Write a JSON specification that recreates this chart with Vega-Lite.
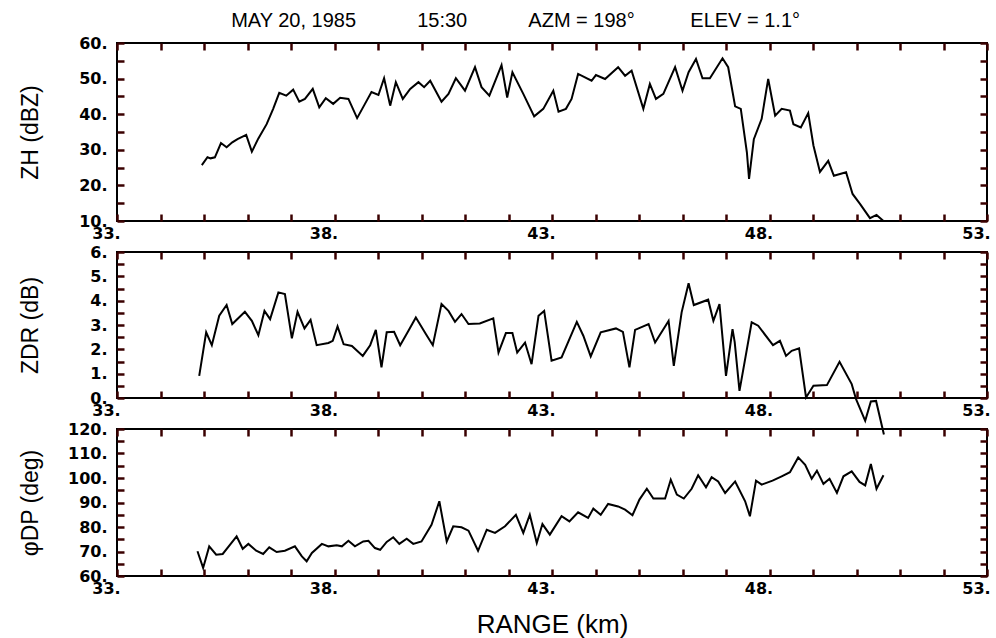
{
  "$schema": "https://vega.github.io/schema/vega-lite/v6.json",
  "background": "white",
  "padding": {"left": 18, "top": 11, "right": 5, "bottom": 0},
  "title": {
    "text": "MAY 20, 1985\u00a0\u00a0\u00a0\u00a0\u00a0\u00a0\u00a0\u00a0\u00a0\u00a0\u00a015:30\u00a0\u00a0\u00a0\u00a0\u00a0\u00a0\u00a0\u00a0\u00a0\u00a0\u00a0AZM = 198°\u00a0\u00a0\u00a0\u00a0\u00a0\u00a0\u00a0\u00a0\u00a0\u00a0ELEV = 1.1°",
    "anchor": "middle",
    "font": "Liberation Sans",
    "fontSize": 20,
    "fontWeight": "normal",
    "color": "black",
    "dx": 11,
    "offset": 3
  },
  "config": {
    "view": {"stroke": "black", "strokeWidth": 2},
    "axis": {
      "domain": false,
      "grid": false,
      "ticks": true,
      "zindex": 2,
      "offset": -7,
      "tickColor": "#3a0000",
      "tickSize": 7,
      "tickWidth": 2.5,
      "tickOpacity": 1,
      "labelFont": "DejaVu Sans",
      "labelFontWeight": "bold",
      "labelFontSize": 16,
      "labelColor": "black",
      "labelOverlap": false,
      "labelFlush": false,
      "titleFont": "Liberation Sans",
      "titleFontWeight": "normal",
      "titleColor": "black"
    },
    "axisX": {"titleFontSize": 26, "labelOffset": -11, "labelPadding": 4, "titlePadding": 15},
    "axisY": {"titleFontSize": 23, "labelPadding": 10, "minExtent": 72, "maxExtent": 72, "titlePadding": 10}
  },
  "datasets": {
    "zh": [
      {"r":34.95,"v":25.7},{"r":35.08,"v":27.9},{"r":35.15,"v":27.6},{"r":35.25,"v":27.9},{"r":35.39,"v":31.9},{"r":35.52,"v":30.7},{"r":35.65,"v":32.1},{"r":35.77,"v":33.0},{"r":35.97,"v":34.2},{"r":36.10,"v":29.5},{"r":36.25,"v":33.2},{"r":36.44,"v":37.2},{"r":36.59,"v":41.5},{"r":36.73,"v":46.0},{"r":36.89,"v":45.2},{"r":37.05,"v":46.9},{"r":37.19,"v":43.5},{"r":37.32,"v":44.3},{"r":37.50,"v":47.1},{"r":37.65,"v":41.9},{"r":37.80,"v":44.5},{"r":37.97,"v":42.9},{"r":38.13,"v":44.6},{"r":38.32,"v":44.3},{"r":38.52,"v":38.9},{"r":38.70,"v":42.9},{"r":38.85,"v":46.2},{"r":39.01,"v":45.4},{"r":39.14,"v":50.1},{"r":39.28,"v":42.4},{"r":39.41,"v":49.0},{"r":39.57,"v":44.3},{"r":39.74,"v":47.1},{"r":39.93,"v":49.0},{"r":40.06,"v":47.6},{"r":40.20,"v":49.4},{"r":40.46,"v":43.5},{"r":40.62,"v":45.7},{"r":40.79,"v":50.1},{"r":41.00,"v":46.6},{"r":41.23,"v":53.2},{"r":41.38,"v":47.6},{"r":41.56,"v":45.2},{"r":41.84,"v":53.8},{"r":41.97,"v":44.7},{"r":42.09,"v":51.8},{"r":42.34,"v":45.7},{"r":42.59,"v":39.4},{"r":42.80,"v":41.5},{"r":43.03,"v":46.6},{"r":43.15,"v":40.7},{"r":43.32,"v":41.5},{"r":43.45,"v":44.3},{"r":43.60,"v":51.3},{"r":43.91,"v":49.4},{"r":44.01,"v":51.0},{"r":44.22,"v":49.9},{"r":44.52,"v":53.2},{"r":44.68,"v":50.8},{"r":44.83,"v":52.2},{"r":45.10,"v":41.5},{"r":45.25,"v":48.5},{"r":45.39,"v":44.3},{"r":45.56,"v":45.7},{"r":45.83,"v":53.2},{"r":46.00,"v":46.6},{"r":46.14,"v":51.8},{"r":46.31,"v":55.5},{"r":46.46,"v":50.1},{"r":46.63,"v":50.1},{"r":46.92,"v":55.7},{"r":47.05,"v":53.2},{"r":47.21,"v":42.2},{"r":47.34,"v":41.5},{"r":47.48,"v":29.3},{"r":47.53,"v":21.8},{"r":47.64,"v":33.0},{"r":47.82,"v":38.7},{"r":47.97,"v":49.9},{"r":48.13,"v":39.6},{"r":48.28,"v":41.5},{"r":48.47,"v":41.0},{"r":48.55,"v":37.2},{"r":48.72,"v":36.3},{"r":48.89,"v":40.3},{"r":49.01,"v":31.2},{"r":49.16,"v":23.8},{"r":49.35,"v":26.9},{"r":49.48,"v":22.7},{"r":49.76,"v":23.7},{"r":49.91,"v":17.6},{"r":50.08,"v":14.8},{"r":50.31,"v":10.8},{"r":50.46,"v":11.7},{"r":50.62,"v":10.0}
    ],
    "zdr": [
      {"r":34.89,"v":0.91},{"r":35.05,"v":2.70},{"r":35.18,"v":2.17},{"r":35.35,"v":3.38},{"r":35.52,"v":3.82},{"r":35.65,"v":3.04},{"r":35.94,"v":3.54},{"r":36.10,"v":3.17},{"r":36.25,"v":2.58},{"r":36.39,"v":3.58},{"r":36.52,"v":3.24},{"r":36.71,"v":4.34},{"r":36.86,"v":4.27},{"r":37.02,"v":2.45},{"r":37.15,"v":3.54},{"r":37.31,"v":2.86},{"r":37.45,"v":3.21},{"r":37.59,"v":2.17},{"r":37.86,"v":2.26},{"r":37.96,"v":2.35},{"r":38.07,"v":2.94},{"r":38.21,"v":2.21},{"r":38.40,"v":2.14},{"r":38.65,"v":1.73},{"r":38.82,"v":2.17},{"r":38.95,"v":2.80},{"r":39.08,"v":1.26},{"r":39.20,"v":2.70},{"r":39.37,"v":2.72},{"r":39.51,"v":2.17},{"r":39.70,"v":2.76},{"r":39.87,"v":3.31},{"r":40.10,"v":2.63},{"r":40.26,"v":2.17},{"r":40.46,"v":3.86},{"r":40.62,"v":3.58},{"r":40.77,"v":3.13},{"r":40.92,"v":3.45},{"r":41.08,"v":3.04},{"r":41.34,"v":3.06},{"r":41.65,"v":3.27},{"r":41.77,"v":1.87},{"r":41.94,"v":2.67},{"r":42.09,"v":2.67},{"r":42.20,"v":1.87},{"r":42.38,"v":2.28},{"r":42.53,"v":1.39},{"r":42.69,"v":3.38},{"r":42.82,"v":3.58},{"r":42.99,"v":1.53},{"r":43.22,"v":1.67},{"r":43.57,"v":3.13},{"r":43.72,"v":2.56},{"r":43.89,"v":1.71},{"r":44.12,"v":2.70},{"r":44.47,"v":2.86},{"r":44.63,"v":2.72},{"r":44.78,"v":1.26},{"r":44.91,"v":2.80},{"r":45.22,"v":3.04},{"r":45.37,"v":2.28},{"r":45.68,"v":3.17},{"r":45.80,"v":1.32},{"r":45.98,"v":3.52},{"r":46.14,"v":4.72},{"r":46.26,"v":3.82},{"r":46.59,"v":4.04},{"r":46.71,"v":3.17},{"r":46.85,"v":3.86},{"r":47.00,"v":0.91},{"r":47.15,"v":2.83},{"r":47.20,"v":2.3},{"r":47.31,"v":0.29},{"r":47.59,"v":3.11},{"r":47.74,"v":2.97},{"r":48.08,"v":2.17},{"r":48.24,"v":2.35},{"r":48.38,"v":1.73},{"r":48.51,"v":1.94},{"r":48.68,"v":2.04},{"r":48.84,"v":0.02},{"r":49.01,"v":0.50},{"r":49.32,"v":0.53},{"r":49.61,"v":1.49},{"r":49.89,"v":0.57},{"r":49.99,"v":-0.05},{"r":50.20,"v":-0.94},{"r":50.33,"v":-0.14},{"r":50.45,"v":-0.12},{"r":50.63,"v":-1.5}
    ],
    "phi": [
      {"r":34.85,"v":70.1},{"r":34.98,"v":63.3},{"r":35.12,"v":72.1},{"r":35.28,"v":68.7},{"r":35.43,"v":69.0},{"r":35.60,"v":72.8},{"r":35.75,"v":76.2},{"r":35.89,"v":71.1},{"r":36.02,"v":73.1},{"r":36.20,"v":70.3},{"r":36.36,"v":69.0},{"r":36.50,"v":71.7},{"r":36.67,"v":69.8},{"r":36.86,"v":70.3},{"r":37.09,"v":72.1},{"r":37.25,"v":68.0},{"r":37.36,"v":66.0},{"r":37.48,"v":69.4},{"r":37.71,"v":73.1},{"r":37.86,"v":72.1},{"r":38.05,"v":72.5},{"r":38.17,"v":72.1},{"r":38.32,"v":74.4},{"r":38.47,"v":72.1},{"r":38.66,"v":74.1},{"r":38.78,"v":74.4},{"r":38.93,"v":71.4},{"r":39.05,"v":70.7},{"r":39.20,"v":73.9},{"r":39.35,"v":75.8},{"r":39.49,"v":73.1},{"r":39.66,"v":75.2},{"r":39.81,"v":73.1},{"r":40.00,"v":74.1},{"r":40.23,"v":80.9},{"r":40.41,"v":90.5},{"r":40.58,"v":74.1},{"r":40.73,"v":80.3},{"r":40.92,"v":79.9},{"r":41.08,"v":78.5},{"r":41.30,"v":70.3},{"r":41.50,"v":78.9},{"r":41.69,"v":77.6},{"r":41.92,"v":80.3},{"r":42.17,"v":85.0},{"r":42.34,"v":77.6},{"r":42.49,"v":85.0},{"r":42.65,"v":73.5},{"r":42.78,"v":81.2},{"r":42.95,"v":76.9},{"r":43.22,"v":84.4},{"r":43.40,"v":82.3},{"r":43.60,"v":86.0},{"r":43.83,"v":83.7},{"r":43.95,"v":87.5},{"r":44.12,"v":85.0},{"r":44.29,"v":89.4},{"r":44.52,"v":88.4},{"r":44.68,"v":87.1},{"r":44.85,"v":84.8},{"r":45.01,"v":91.2},{"r":45.18,"v":95.6},{"r":45.33,"v":91.6},{"r":45.60,"v":91.6},{"r":45.73,"v":99.3},{"r":45.87,"v":93.2},{"r":46.03,"v":91.6},{"r":46.21,"v":95.6},{"r":46.36,"v":101.1},{"r":46.54,"v":96.2},{"r":46.67,"v":100.3},{"r":46.82,"v":98.6},{"r":46.98,"v":93.9},{"r":47.21,"v":98.6},{"r":47.44,"v":90.5},{"r":47.55,"v":84.4},{"r":47.69,"v":98.9},{"r":47.82,"v":97.3},{"r":48.07,"v":98.9},{"r":48.28,"v":100.7},{"r":48.47,"v":102.4},{"r":48.66,"v":108.4},{"r":48.82,"v":105.4},{"r":48.97,"v":99.7},{"r":49.09,"v":103.0},{"r":49.24,"v":97.6},{"r":49.38,"v":99.7},{"r":49.55,"v":93.9},{"r":49.70,"v":100.7},{"r":49.89,"v":102.7},{"r":50.07,"v":98.4},{"r":50.20,"v":97.0},{"r":50.33,"v":105.7},{"r":50.46,"v":95.6},{"r":50.62,"v":101.1}
    ]
  },
  "bounds": "flush",
  "spacing": 31,
  "vconcat": [
    {
      "width": 870,
      "height": 178,
      "data": {"name": "zh"},
      "layer": [
        {
          "mark": {"type": "line", "color": "black", "strokeWidth": 2},
          "encoding": {
            "x": {"field": "r", "type": "quantitative", "scale": {"domain": [33, 53], "nice": false, "zero": false},
                  "axis": {"orient": "bottom", "title": null, "values": [33,34,35,36,37,38,39,40,41,42,43,44,45,46,47,48,49,50,51,52,53], "labelExpr": "datum.value % 5 == 3 ? datum.value + '.' : ''"}},
            "y": {"field": "v", "type": "quantitative", "scale": {"domain": [10, 60], "nice": false, "zero": false},
                  "axis": {"orient": "left", "title": "ZH (dBZ)", "values": [10,15,20,25,30,35,40,45,50,55,60], "labelExpr": "datum.value % 10 == 0 ? datum.value + '.' : ''"}}
          }
        },
        {
          "mark": {"type": "line", "strokeOpacity": 0},
          "encoding": {
            "x": {"field": "r", "type": "quantitative", "axis": {"orient": "top", "title": null, "labels": false, "values": [33,34,35,36,37,38,39,40,41,42,43,44,45,46,47,48,49,50,51,52,53]}},
            "y": {"field": "v", "type": "quantitative", "axis": {"orient": "right", "title": null, "labels": false, "minExtent": 0, "maxExtent": 0, "values": [10,15,20,25,30,35,40,45,50,55,60]}}
          }
        }
      ],
      "resolve": {"axis": {"x": "independent", "y": "independent"}}
    },
    {
      "width": 870,
      "height": 146,
      "data": {"name": "zdr"},
      "layer": [
        {
          "mark": {"type": "line", "color": "black", "strokeWidth": 2, "clip": false},
          "encoding": {
            "x": {"field": "r", "type": "quantitative", "scale": {"domain": [33, 53], "nice": false, "zero": false},
                  "axis": {"orient": "bottom", "title": null, "values": [33,34,35,36,37,38,39,40,41,42,43,44,45,46,47,48,49,50,51,52,53], "labelExpr": "datum.value % 5 == 3 ? datum.value + '.' : ''"}},
            "y": {"field": "v", "type": "quantitative", "scale": {"domain": [0, 6], "nice": false, "zero": false},
                  "axis": {"orient": "left", "title": "ZDR (dB)", "values": [0,0.5,1,1.5,2,2.5,3,3.5,4,4.5,5,5.5,6], "labelExpr": "datum.value % 1 == 0 ? datum.value + '.' : ''"}}
          }
        },
        {
          "mark": {"type": "line", "strokeOpacity": 0},
          "encoding": {
            "x": {"field": "r", "type": "quantitative", "axis": {"orient": "top", "title": null, "labels": false, "values": [33,34,35,36,37,38,39,40,41,42,43,44,45,46,47,48,49,50,51,52,53]}},
            "y": {"field": "v", "type": "quantitative", "axis": {"orient": "right", "title": null, "labels": false, "minExtent": 0, "maxExtent": 0, "values": [0,0.5,1,1.5,2,2.5,3,3.5,4,4.5,5,5.5,6]}}
          }
        }
      ],
      "resolve": {"axis": {"x": "independent", "y": "independent"}}
    },
    {
      "width": 870,
      "height": 147,
      "data": {"name": "phi"},
      "layer": [
        {
          "mark": {"type": "line", "color": "black", "strokeWidth": 2},
          "encoding": {
            "x": {"field": "r", "type": "quantitative", "scale": {"domain": [33, 53], "nice": false, "zero": false},
                  "axis": {"orient": "bottom", "title": "RANGE (km)", "values": [33,34,35,36,37,38,39,40,41,42,43,44,45,46,47,48,49,50,51,52,53], "labelExpr": "datum.value % 5 == 3 ? datum.value + '.' : ''"}},
            "y": {"field": "v", "type": "quantitative", "scale": {"domain": [60, 120], "nice": false, "zero": false},
                  "axis": {"orient": "left", "title": "φDP (deg)", "values": [60,65,70,75,80,85,90,95,100,105,110,115,120], "labelExpr": "datum.value % 10 == 0 ? datum.value + '.' : ''"}}
          }
        },
        {
          "mark": {"type": "line", "strokeOpacity": 0},
          "encoding": {
            "x": {"field": "r", "type": "quantitative", "axis": {"orient": "top", "title": null, "labels": false, "values": [33,34,35,36,37,38,39,40,41,42,43,44,45,46,47,48,49,50,51,52,53]}},
            "y": {"field": "v", "type": "quantitative", "axis": {"orient": "right", "title": null, "labels": false, "minExtent": 0, "maxExtent": 0, "values": [60,65,70,75,80,85,90,95,100,105,110,115,120]}}
          }
        }
      ],
      "resolve": {"axis": {"x": "independent", "y": "independent"}}
    }
  ]
}
